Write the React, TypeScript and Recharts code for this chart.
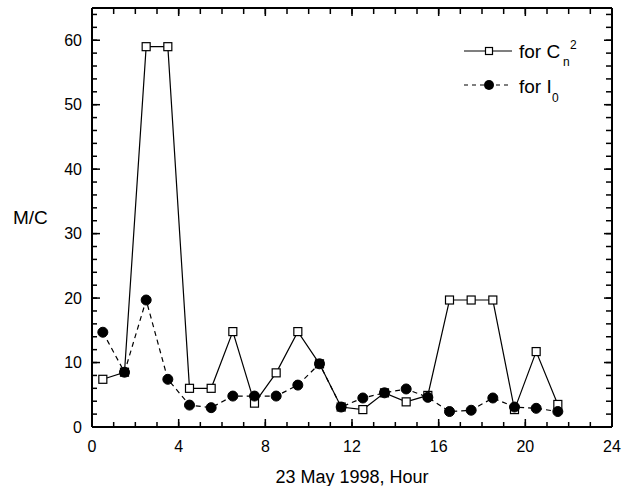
import React from 'react';
import { LineChart, Line, XAxis, YAxis, Legend } from 'recharts';

const hours = [0.5, 1.5, 2.5, 3.5, 4.5, 5.5, 6.5, 7.5, 8.5, 9.5, 10.5, 11.5, 12.5, 13.5, 14.5, 15.5, 16.5, 17.5, 18.5, 19.5, 20.5, 21.5];
const cn2Values = [7.4, 8.5, 59, 59, 6, 6, 14.8, 3.7, 8.4, 14.8, 9.8, 3.1, 2.7, 5.3, 3.9, 4.9, 19.7, 19.7, 19.7, 2.7, 11.7, 3.5];
const i0Values = [14.7, 8.5, 19.7, 7.4, 3.4, 3.0, 4.8, 4.8, 4.8, 6.5, 9.8, 3.1, 4.5, 5.3, 5.9, 4.6, 2.4, 2.6, 4.5, 3.1, 2.9, 2.4];
const xMajorTicks = [0, 4, 8, 12, 16, 20, 24];
const xMinorTicks = Array.from({ length: 25 }, (_, i) => i);
const yMajorTicks = [0, 10, 20, 30, 40, 50, 60];
const yMinorTicks = Array.from({ length: 33 }, (_, i) => i * 2);

const data = hours.map((h, i) => ({ hour: h, cn2: cn2Values[i], i0: i0Values[i] }));

const FONT = '"Liberation Sans", Arial, Helvetica, sans-serif';
const TICK_LINE = { stroke: '#000', strokeWidth: 1.5 };
const AXIS_LINE = { stroke: '#000', strokeWidth: 2 };
const TICK_TEXT = { fontSize: 16, fill: '#000', fontFamily: FONT };
const NoLabel = () => <g />;

const SquareDot = (props: any) => {
  const { cx, cy, index } = props;
  if (cx == null || cy == null) return <g key={`s${index}`} />;
  return <rect key={`s${index}`} x={cx - 4} y={cy - 4} width={8} height={8} fill="#fff" stroke="#000" strokeWidth={1.2} />;
};

const CircleDot = (props: any) => {
  const { cx, cy, index } = props;
  if (cx == null || cy == null) return <g key={`c${index}`} />;
  return <circle key={`c${index}`} cx={cx} cy={cy} r={5} fill="#000" stroke="#000" />;
};

const LegendContent = () => (
  <svg width={170} height={85} style={{ overflow: 'visible' }}>
    <g fontFamily={FONT} fill="#000">
      <line x1={9} x2={57} y1={21} y2={21} stroke="#000" strokeWidth={1.2} />
      <rect x={30.5} y={17.5} width={7} height={7} fill="#fff" stroke="#000" strokeWidth={1.2} />
      <text x={64} y={28} fontSize={19}>for C</text>
      <text x={108} y={36} fontSize={12}>n</text>
      <text x={115} y={19} fontSize={12}>2</text>

      <line x1={9} x2={57} y1={55} y2={55} stroke="#000" strokeWidth={1.2} strokeDasharray="4 4" />
      <circle cx={34} cy={55} r={5} fill="#000" />
      <text x={64} y={63} fontSize={19}>for I</text>
      <text x={97} y={72} fontSize={12}>0</text>
    </g>
  </svg>
);

const xCommon = { type: 'number' as const, domain: [0, 24], allowDataOverflow: true, interval: 0 as const };
const yCommon = { type: 'number' as const, domain: [0, 65], allowDataOverflow: true, interval: 0 as const };
const hidden = { stroke: 'none', dot: false, activeDot: false, legendType: 'none' as const, isAnimationActive: false };

export default function App() {
  return (
    <div style={{ position: 'absolute', left: 0, top: 0 }}>
      <LineChart
        width={625}
        height={486}
        data={data}
        margin={{ top: 8, right: 13, bottom: 0, left: 0 }}
        style={{ fontFamily: FONT }}
      >
        {/* main labelled axes with inward major ticks */}
        <XAxis
          xAxisId="b"
          dataKey="hour"
          {...xCommon}
          ticks={xMajorTicks}
          height={59}
          tickSize={-8}
          tickMargin={22}
          tickLine={TICK_LINE}
          axisLine={AXIS_LINE}
          tick={TICK_TEXT}
          label={{ value: '23 May 1998, Hour', position: 'insideBottom', offset: 3, fontSize: 18, fill: '#000', fontFamily: FONT }}
        />
        <YAxis
          yAxisId="l"
          {...yCommon}
          ticks={yMajorTicks}
          width={92}
          tickSize={-8}
          tickMargin={18}
          tickLine={TICK_LINE}
          axisLine={AXIS_LINE}
          tick={TICK_TEXT}
          label={{ value: 'M/C', position: 'insideLeft', offset: 13, fontSize: 19, fill: '#000', fontFamily: FONT }}
        />

        {/* inward minor ticks and top/right frame (mirrored axes) */}
        <XAxis xAxisId="bMin" dataKey="hour" {...xCommon} ticks={xMinorTicks} mirror height={1} tickSize={5} tick={NoLabel} tickLine={TICK_LINE} axisLine={false} />
        <XAxis xAxisId="tMaj" dataKey="hour" orientation="top" {...xCommon} ticks={xMajorTicks} mirror height={1} tickSize={8} tick={NoLabel} tickLine={TICK_LINE} axisLine={AXIS_LINE} />
        <XAxis xAxisId="tMin" dataKey="hour" orientation="top" {...xCommon} ticks={xMinorTicks} mirror height={1} tickSize={5} tick={NoLabel} tickLine={TICK_LINE} axisLine={false} />
        <YAxis yAxisId="lMin" {...yCommon} ticks={yMinorTicks} mirror width={1} tickSize={5} tick={NoLabel} tickLine={TICK_LINE} axisLine={false} />
        <YAxis yAxisId="rMaj" orientation="right" {...yCommon} ticks={yMajorTicks} mirror width={1} tickSize={8} tick={NoLabel} tickLine={TICK_LINE} axisLine={AXIS_LINE} />
        <YAxis yAxisId="rMin" orientation="right" {...yCommon} ticks={yMinorTicks} mirror width={1} tickSize={5} tick={NoLabel} tickLine={TICK_LINE} axisLine={false} />

        <Legend
          layout="vertical"
          align="center"
          verticalAlign="middle"
          content={LegendContent}
          wrapperStyle={{ position: 'absolute', left: 455, top: 30, width: 170, height: 85 }}
        />

        {/* invisible series binding the tick-mark axes */}
        <Line xAxisId="bMin" yAxisId="lMin" dataKey="cn2" {...hidden} />
        <Line xAxisId="tMaj" yAxisId="rMaj" dataKey="cn2" {...hidden} />
        <Line xAxisId="tMin" yAxisId="rMin" dataKey="cn2" {...hidden} />

        <Line
          xAxisId="b"
          yAxisId="l"
          type="linear"
          dataKey="cn2"
          stroke="#000"
          strokeWidth={1.2}
          dot={SquareDot}
          activeDot={false}
          isAnimationActive={false}
        />
        <Line
          xAxisId="b"
          yAxisId="l"
          type="linear"
          dataKey="i0"
          stroke="#000"
          strokeWidth={1.2}
          strokeDasharray="5 4"
          dot={CircleDot}
          activeDot={false}
          isAnimationActive={false}
        />
      </LineChart>
    </div>
  );
}
